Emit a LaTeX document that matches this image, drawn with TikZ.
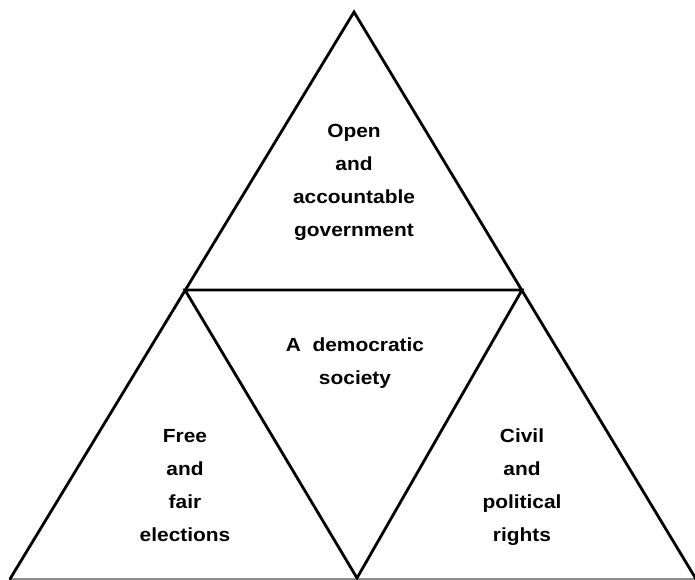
\documentclass[tikz,border=0pt]{standalone}
\usepackage{fontspec}
\setmainfont{Liberation Sans}[FakeStretch=1.1]
\begin{document}
\begin{tikzpicture}[x=1pt,y=-1pt,
  edge/.style={line width=2.8pt,line join=miter,line cap=round},
  baseedge/.style={line width=1.6pt,draw=black!45},
  label/.style={font=\fontsize{19}{33}\selectfont\bfseries,align=center,inner sep=0pt,anchor=base}]
\useasboundingbox (0,0) rectangle (695,579);
% corners of the big triangle and of the inner one
\coordinate (apex) at (354,12);
\coordinate (bl) at (10,579);
\coordinate (br) at (696,579);
\coordinate (ml) at (185,290);
\coordinate (mr) at (522,290);
\coordinate (mb) at (357,578);
% outline
\draw[baseedge] (bl) -- (br);
\draw[edge] (bl) -- (apex) -- (br);
\draw[edge] (ml) -- (mr) -- (mb) -- cycle;
% labels (anchored at the baseline of their last line)
\node[label] (top) at (354,236) {Open\\and\\accountable\\government};
\node[label] (mid) at (355,384) {A\ \ democratic\\society};
\node[label] (left) at (185,541) {Free\\and\\fair\\elections};
\node[label] (right) at (522,541) {Civil\\and\\political\\rights};
\end{tikzpicture}
\end{document}
